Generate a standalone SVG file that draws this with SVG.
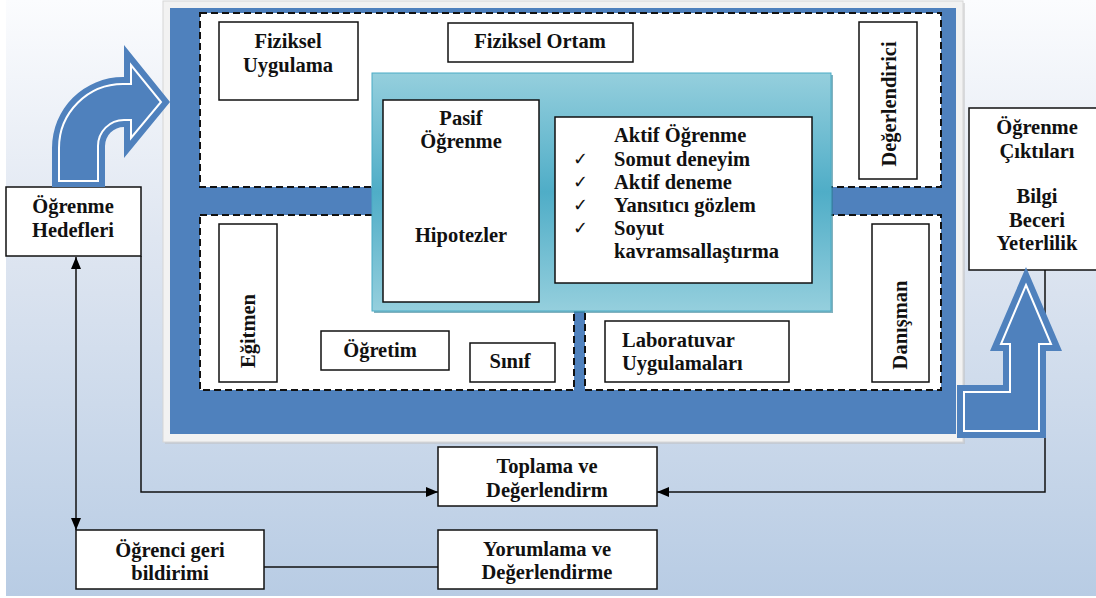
<svg xmlns="http://www.w3.org/2000/svg" width="1096" height="598" viewBox="0 0 1096 598">
<defs>
<linearGradient id="bg" x1="0" y1="0" x2="0" y2="1">
<stop offset="0" stop-color="#fbfcfe"/>
<stop offset="0.4" stop-color="#dfe6f1"/>
<stop offset="1" stop-color="#b8cce4"/>
</linearGradient>
<linearGradient id="teal" x1="0" y1="0" x2="0" y2="1">
<stop offset="0" stop-color="#95cfdd"/>
<stop offset="0.5" stop-color="#4fadc7"/>
<stop offset="1" stop-color="#95cfdd"/>
</linearGradient>
<marker id="ah" markerUnits="userSpaceOnUse" markerWidth="12" markerHeight="10" refX="12" refY="5" orient="auto-start-reverse">
<path d="M0,0 L12,5 L0,10 Z" fill="#000"/>
</marker>
<style>
text{font-family:"Liberation Serif","Times New Roman",serif;font-weight:700;font-size:20.5px;fill:#111;}
.c{text-anchor:middle;}
.box{fill:#fff;stroke:#111;stroke-width:1.5;}
.dash{fill:#fff;stroke:#111;stroke-width:2;stroke-dasharray:7 4;}
.ln{fill:none;stroke:#111;stroke-width:1.5;}
text.chk{font-family:"DejaVu Sans",sans-serif;font-weight:400;font-size:18px;}
.bo{fill:#4f81bd;}
.bi{fill:#4f81bd;stroke:#fff;stroke-width:2;stroke-linejoin:miter;}
</style>
</defs>
<rect x="6" y="0" width="1090" height="596" fill="url(#bg)"/>
<rect x="165" y="3" width="800" height="441" fill="#bfbfbf" opacity="0.5"/>
<rect x="163" y="1" width="800" height="441" fill="#f2f2f2" stroke="#d6d6d6" stroke-width="1"/>
<rect x="170" y="8" width="786" height="426" fill="#4f81bd"/>
<rect class="dash" x="200" y="13" width="741" height="174"/>
<rect class="dash" x="200" y="215" width="374" height="175"/>
<rect class="dash" x="585" y="215" width="356" height="175"/>

<g id="fiziksel-uygulama">
<rect class="box" x="219" y="22" width="139" height="78"/>
<text class="c" x="288" y="48">Fiziksel</text>
<text class="c" x="288" y="72">Uygulama</text>
</g>
<g id="fiziksel-ortam">
<rect class="box" x="448" y="23" width="185" height="39"/>
<text class="c" x="540" y="48">Fiziksel Ortam</text>
</g>
<g id="degerlendirici">
<rect class="box" x="859" y="22" width="58" height="157"/>
<text class="c" transform="translate(896,104) rotate(-90)">Değerlendirici</text>
</g>
<g id="egitmen">
<rect class="box" x="219" y="224" width="58" height="158"/>
<text class="c" transform="translate(255,331) rotate(-90)">Eğitmen</text>
</g>
<g id="ogretim">
<rect class="box" x="321" y="331" width="128" height="39"/>
<text class="c" x="380" y="357">Öğretim</text>
</g>
<g id="sinif">
<rect class="box" x="470" y="343" width="85" height="39"/>
<text class="c" x="510" y="368">Sınıf</text>
</g>
<g id="laboratuvar">
<rect class="box" x="605" y="321" width="184" height="61"/>
<text x="622" y="347">Laboratuvar</text>
<text x="622" y="370">Uygulamaları</text>
</g>
<g id="danisman">
<rect class="box" x="872" y="224" width="57" height="158"/>
<text class="c" transform="translate(907,325) rotate(-90)">Danışman</text>
</g>

<g id="ogrenme-modeli">
<rect x="374" y="75" width="459" height="238" fill="#2f7f94" opacity="0.6"/>
<rect x="372" y="73" width="459" height="238" fill="url(#teal)" stroke="#4bacc6" stroke-width="1"/>
</g>
<g id="pasif-ogrenme">
<rect class="box" x="383" y="100" width="156" height="202"/>
<text class="c" x="461" y="125">Pasif</text>
<text class="c" x="461" y="148">Öğrenme</text>
<text class="c" x="461" y="242">Hipotezler</text>
</g>
<g id="aktif-ogrenme">
<rect class="box" x="555" y="117" width="257" height="166"/>
<text x="614" y="142">Aktif Öğrenme</text>
<text class="chk" x="573" y="165">✓</text>
<text x="614" y="166">Somut deneyim</text>
<text class="chk" x="573" y="188">✓</text>
<text x="614" y="189">Aktif deneme</text>
<text class="chk" x="573" y="211">✓</text>
<text x="614" y="212">Yansıtıcı gözlem</text>
<text class="chk" x="573" y="234">✓</text>
<text x="614" y="235">Soyut</text>
<text x="614" y="258">kavramsallaştırma</text>
</g>

<g id="ogrenme-hedefleri">
<rect class="box" x="6" y="187" width="135" height="69"/>
<text class="c" x="73" y="213">Öğrenme</text>
<text class="c" x="73" y="237">Hedefleri</text>
</g>
<g id="ogrenme-ciktilari">
<rect class="box" x="969" y="108" width="130" height="162"/>
<text class="c" x="1037" y="134">Öğrenme</text>
<text class="c" x="1037" y="158">Çıktıları</text>
<text class="c" x="1037" y="203">Bilgi</text>
<text class="c" x="1037" y="227">Beceri</text>
<text class="c" x="1037" y="250">Yeterlilik</text>
</g>
<g id="toplama">
<rect class="box" x="438" y="447" width="219" height="59"/>
<text class="c" x="547" y="473">Toplama ve</text>
<text class="c" x="547" y="497">Değerlendirm</text>
</g>
<g id="yorumlama">
<rect class="box" x="438" y="530" width="219" height="59"/>
<text class="c" x="547" y="556">Yorumlama ve</text>
<text class="c" x="547" y="579">Değerlendirme</text>
</g>
<g id="ogrenci-geri-bildirimi">
<rect class="box" x="76" y="530" width="188" height="59"/>
<text class="c" x="170" y="557">Öğrenci geri</text>
<text class="c" x="170" y="580">bildirimi</text>
</g>

<g id="connectors">
<path class="ln" d="M76,257 V530" marker-start="url(#ah)" marker-end="url(#ah)"/>
<path class="ln" d="M141,256 V492 H438" marker-end="url(#ah)"/>
<path class="ln" d="M1045,270 V492 H657" marker-end="url(#ah)"/>
<path class="ln" d="M264,567 H438"/>
<path class="bo" d="M52,187 L52,148 A71,71 0 0 1 123,77 L124,77 L124,45 L170,102 L124,158 L124,127 A19,19 0 0 0 105,146 L105,187 Z"/>
<path class="bi" d="M59,181 L59,148 A64,64 0 0 1 123,84 L131,84 L131,65 L161,102 L131,138 L131,120 L124,120 A26,26 0 0 0 98,146 L98,181 Z"/>
<path class="bo" d="M1026,267 L1062,351 L1046,351 L1046,438 L957,438 L957,385 L1003,385 L1003,351 L990,351 Z"/>
<path class="bi" d="M1026,285 L1051,344 L1039,344 L1039,431 L964,431 L964,392 L1010,392 L1010,344 L1001,344 Z"/>
</g>
</svg>
